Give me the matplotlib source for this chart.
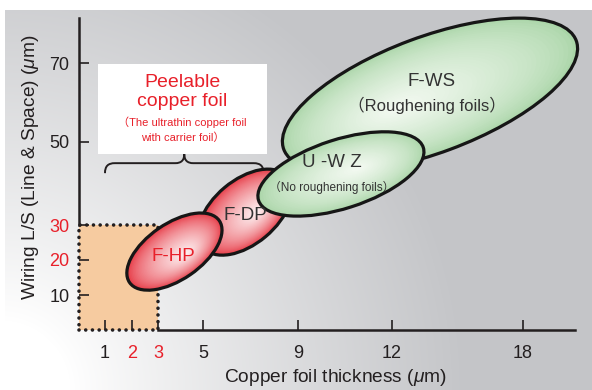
import numpy as np
import matplotlib
matplotlib.use('Agg')
from matplotlib import pyplot as plt
from matplotlib.patches import Ellipse, Rectangle, PathPatch
from matplotlib.path import Path
import matplotlib.transforms as mtransforms
from matplotlib.colors import to_rgb

# axis scales of the original drawing (value -> pixel position)
x_knots = [-50, 0, 1, 2, 3, 5, 9, 12, 18, 20.4, 200]
x_pix = [79 - 50 * 26, 79, 105, 132, 158, 203, 298, 392, 523, 575, 575 + 180 * 22]
y_knots = [-50, 0, 10, 20, 30, 50, 70, 81.4, 300]
y_pix = [330 + 50 * 3.5, 330, 295, 260, 225, 142, 63, 18, 18 - 219 * 4]

x_ticks = [1, 2, 3, 5, 9, 12, 18]
x_tick_red = [False, True, True, False, False, False, False]
y_ticks = [10, 20, 30, 50, 70]
y_tick_red = [False, True, True, False, False]

# foil families: centre of thickness / L/S range
foil_names = ['F-WS', 'U -W Z', 'F-DP', 'F-HP']
foil_notes = ['（Roughening foils）', '（No roughening foils）', '', '']
foil_thick = [13.74, 10.37, 6.77, 3.73]
foil_ls = [61.9, 42.3, 33.1, 22.4]

# peelable foils region (thickness <= 3, L/S <= 30)
peel_thick = 3
peel_ls = 30

RED = '#e8202a'
INK = '#231f20'
plt.rcParams['font.family'] = ['Liberation Sans', 'Noto Sans CJK JP', 'DejaVu Sans']
plt.rcParams['mathtext.fontset'] = 'custom'
plt.rcParams['mathtext.rm'] = 'Liberation Sans'
plt.rcParams['mathtext.it'] = 'Liberation Sans:italic'

fig = plt.figure(figsize=(5.92, 3.9), dpi=100)

# background gradient
bg = fig.add_axes([0, 0, 1, 1], zorder=-5)
H, W = 390, 592
rr, cc = np.mgrid[0:H, 0:W]
d = np.sqrt(cc ** 2 + (H - rr) ** 2)
t = np.clip((d - 70) / 390, 0, 1) ** 0.9
gray = np.array([0.772, 0.776, 0.788])
img = 1 - t[..., None] * (1 - gray)
img[rr < 10] = 1
img[cc < 5] = 1
bg.imshow(img, extent=[0, W, H, 0], aspect='auto')
bg.set_xlim(0, W)
bg.set_ylim(H, 0)
bg.axis('off')

ax = fig.add_axes([79 / 592, 1 - 330 / 390, 496 / 592, 312 / 390])
ax.patch.set_visible(False)


def xf(v):
    return np.interp(v, x_knots, x_pix)


def xi(p):
    return np.interp(p, x_pix, x_knots)


def yf(v):
    return -np.interp(v, y_knots, y_pix)


def yi(p):
    return np.interp(-np.asarray(p), y_pix[::-1], y_knots[::-1])


ax.set_xscale('function', functions=(xf, xi))
ax.set_yscale('function', functions=(yf, yi))
ax.set_xlim(0, 20.4)
ax.set_ylim(0, 81.4)
ax.set_autoscale_on(False)

for s in ['top', 'right']:
    ax.spines[s].set_visible(False)
ax.spines['bottom'].set_bounds(peel_thick, 20.4)
ax.spines['left'].set_bounds(peel_ls, 81.4)
for s in ['bottom', 'left']:
    ax.spines[s].set_linewidth(1.8)
    ax.spines[s].set_color(INK)

ax.set_xticks(x_ticks)
ax.set_xticklabels([str(v) for v in x_ticks])
ax.set_yticks(y_ticks)
ax.set_yticklabels([str(v) for v in y_ticks])
ax.minorticks_off()
ax.tick_params(axis='x', direction='in', length=7, width=1.2, color=INK, labelsize=13, pad=11)
ax.tick_params(axis='y', direction='in', length=7, width=1.2, color=INK, labelsize=13, pad=7)
for lbl, red in zip(ax.get_xticklabels(), x_tick_red):
    lbl.set_color(RED if red else INK)
for lbl, red in zip(ax.get_yticklabels(), y_tick_red):
    lbl.set_color(RED if red else INK)

ax.set_xlabel('Copper foil thickness ($\\mu$m)', fontsize=13.8, color=INK)
ax.xaxis.set_label_coords(0.518, -0.12)
ax.set_ylabel('Wiring L/S (Line & Space) ($\\mu$m)', fontsize=13.8, color=INK)
ax.yaxis.set_label_coords(-0.077, 0.52)

# peelable area
ax.add_patch(Rectangle((0, 0), peel_thick, peel_ls, facecolor='#f6cba0',
                       edgecolor=INK, lw=2.6, linestyle=(0, (0.01, 1.85)),
                       capstyle='round', clip_on=False, zorder=1.5))

# foil ellipses (size in pixels, angle in degrees)
styles = [
    dict(w=312, h=116, ang=20.4, edge='#a9d5a7', mid='#f3f9f1', off=(-35, -14), z=2),
    dict(w=173, h=69, ang=17.8, edge='#a9d5a7', mid='#f3f9f1', off=(18, 6), z=4),
    dict(w=110, h=64, ang=40, edge='#e6323e', mid='#fdf0f1', off=(12, 0), z=3),
    dict(w=109, h=56, ang=34.6, edge='#e6323e', mid='#fdf0f1', off=(12, -2), z=5),
]
text_pos = [((2, 13), (-3, -10)), ((-9, 11), (-9, -13)), ((0, -3), None), ((-1, -5), None)]
note_size = [12, 8.5]


def draw_foil(cx, cy, st):
    base = mtransforms.Affine2D() + mtransforms.ScaledTranslation(cx, cy, ax.transData)
    e0, e1 = np.array(to_rgb(st['edge'])), np.array(to_rgb(st['mid']))
    n = 40
    for k in range(n):
        s = 1 - k / n
        tt = (k / (n - 1)) ** 0.65
        col = e0 + (e1 - e0) * tt
        ax.add_patch(Ellipse((st['off'][0] * (1 - s), st['off'][1] * (1 - s)),
                             st['w'] * s, st['h'] * s, angle=st['ang'],
                             transform=base, facecolor=col, edgecolor='none',
                             zorder=st['z'], clip_on=False))
    ax.add_patch(Ellipse((0, 0), st['w'], st['h'], angle=st['ang'], transform=base,
                         fill=False, edgecolor='#161616', lw=2.3, zorder=st['z'],
                         clip_on=False))


for i, name in enumerate(foil_names):
    st = styles[i]
    draw_foil(foil_thick[i], foil_ls[i], st)
    col = RED if name == 'F-HP' else '#333333'
    ax.annotate(name, (foil_thick[i], foil_ls[i]), xytext=text_pos[i][0],
                textcoords='offset pixels', ha='center', va='center',
                fontsize=13.5, color=col, zorder=10)
    if foil_notes[i]:
        ax.annotate(foil_notes[i], (foil_thick[i], foil_ls[i]), xytext=text_pos[i][1],
                    textcoords='offset pixels', ha='center', va='center',
                    fontsize=note_size[i], color='#333333', zorder=10)

# peelable copper foil note box
box_x = (0.73, 7.7)
box_y = (47.1, 69.7)
ax.add_patch(Rectangle((box_x[0], box_y[0]), box_x[1] - box_x[0], box_y[1] - box_y[0],
                       facecolor='white', edgecolor='none', zorder=1.2, clip_on=False))
(bx0, by0), (bx1, by1) = ax.transData.transform([(box_x[0], box_y[0]), (box_x[1], box_y[1])])
bcx = (bx0 + bx1) / 2
for txt, dy, fs in [('Peelable', 18, 14), ('copper foil', 37, 14),
                    ('（The ultrathin copper foil', 58, 8), ('with carrier foil）', 73, 8)]:
    fig.text(bcx / 592, (by1 - dy) / 390, txt, ha='center', va='center',
             fontsize=fs, color=RED, zorder=10)

# curly brace under the note
brace_x = (1.0, 7.55)
brace_y = 44.9
(p0, yb), (p1, _) = ax.transData.transform([(brace_x[0], brace_y), (brace_x[1], brace_y)])
pm = (p0 + p1) / 2
verts = [(p0, yb - 10), (p0, yb - 3), (p0 + 3, yb), (p0 + 10, yb),
         (pm - 9, yb),
         (pm - 3, yb), (pm, yb + 3), (pm, yb + 9),
         (pm, yb + 3), (pm + 3, yb), (pm + 9, yb),
         (p1 - 10, yb),
         (p1 - 3, yb), (p1, yb - 3), (p1, yb - 10)]
codes = [Path.MOVETO, Path.CURVE4, Path.CURVE4, Path.CURVE4,
         Path.LINETO,
         Path.CURVE4, Path.CURVE4, Path.CURVE4,
         Path.CURVE4, Path.CURVE4, Path.CURVE4,
         Path.LINETO,
         Path.CURVE4, Path.CURVE4, Path.CURVE4]
ax.add_patch(PathPatch(Path(verts, codes), transform=mtransforms.IdentityTransform(),
                       fill=False, edgecolor=INK, lw=1.4, zorder=2.5, clip_on=False))

fig.savefig('out.png', dpi=100)
